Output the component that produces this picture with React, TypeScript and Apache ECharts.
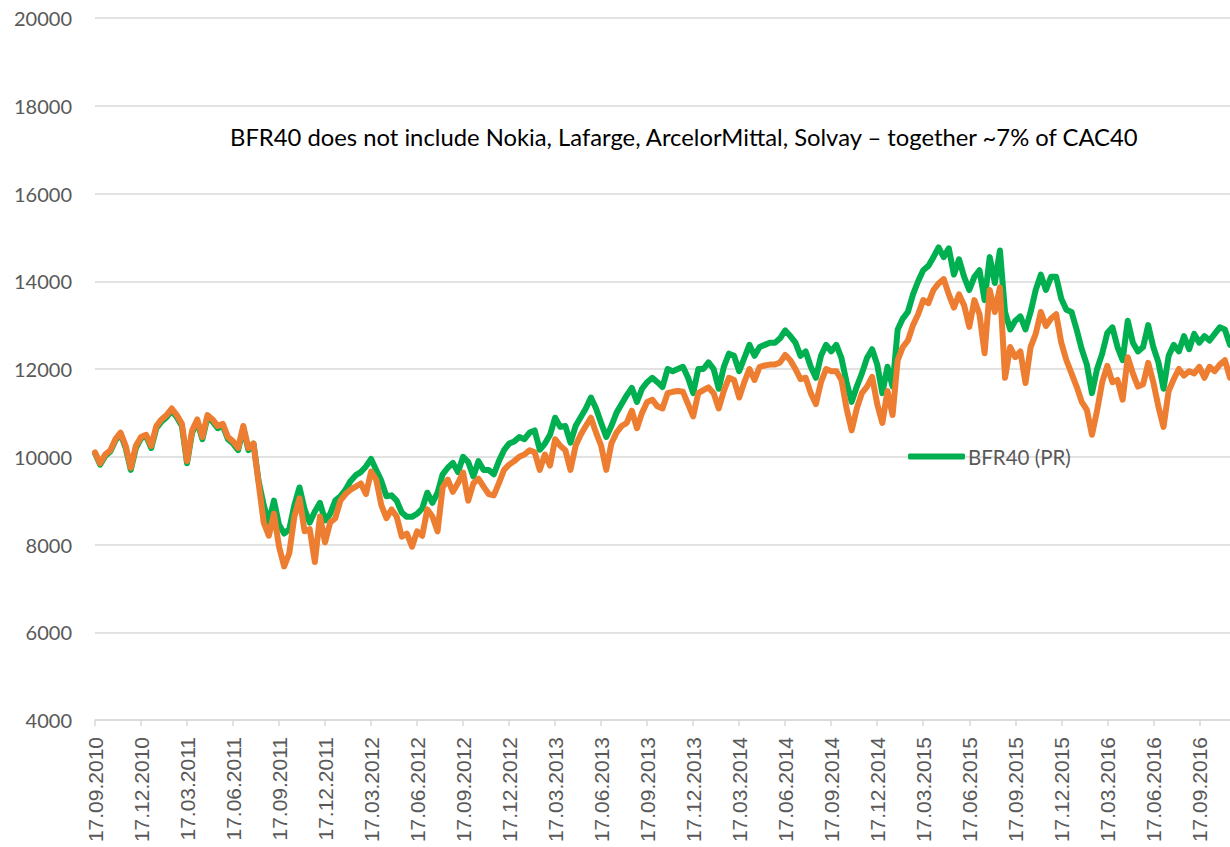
import React, { useEffect, useRef } from "react";
import * as echarts from "echarts";

const startYear = 2010;
const startMonth = 9;
const monthCount = 74; // Sep 2010 .. Oct 2016, then 17.11.2016 as last point

function pad(n: number) {
  return n < 10 ? "0" + n : "" + n;
}
function buildCategories(): string[] {
  const out: string[] = [];
  for (let k = 0; k < monthCount; k++) {
    const m0 = startMonth - 1 + k;
    const y = startYear + Math.floor(m0 / 12);
    const m = (m0 % 12) + 1;
    const m1 = m0 + 1;
    const y1 = startYear + Math.floor(m1 / 12);
    const mm1 = (m1 % 12) + 1;
    out.push(`17.${pad(m)}.${y}`);
    out.push(`27.${pad(m)}.${y}`);
    out.push(`07.${pad(mm1)}.${y1}`);
  }
  out.push("17.11.2016");
  return out;
}
const categories = buildCategories();

const yTicks = { min: 4000, max: 20000, interval: 2000 };

const bfr40 = [
  10080, 9820, 10020, 10120, 10370, 10520, 10200, 9700, 10200, 10420,
  10470, 10200, 10650, 10800, 10900, 11050, 10900, 10700, 9850, 10550,
  10800, 10400, 10900, 10800, 10650, 10700, 10400, 10300, 10150, 10650,
  10150, 10300, 9450, 8900, 8500, 9000, 8450, 8250, 8350, 8900,
  9300, 8800, 8500, 8750, 8950, 8550, 8700, 9000, 9100, 9250,
  9450, 9580, 9650, 9780, 9950, 9700, 9450, 9100, 9120, 9000,
  8730, 8630, 8630, 8700, 8820, 9180, 8950, 9180, 9600, 9750,
  9860, 9650, 10000, 9880, 9550, 9900, 9700, 9700, 9600, 9900,
  10150, 10300, 10350, 10450, 10400, 10550, 10600, 10160, 10300, 10500,
  10890, 10680, 10700, 10320, 10700, 10900, 11100, 11350, 11100, 10770,
  10450, 10700, 11000, 11200, 11400, 11570, 11250, 11550, 11700, 11800,
  11700, 11590, 12000, 11950, 12000, 12050, 11800, 11450, 12000, 12000,
  12150, 12000, 11550, 12050, 12350, 12300, 11950, 12250, 12550, 12300,
  12500, 12550, 12600, 12600, 12700, 12880, 12750, 12600, 12300, 12400,
  12050, 11800, 12300, 12550, 12400, 12550, 12250, 11700, 11250, 11600,
  11900, 12250, 12450, 12100, 11450, 12050, 11600, 12900, 13150, 13300,
  13700, 14000, 14250, 14350, 14550, 14770, 14550, 14750, 14150, 14500,
  14100, 13800, 14100, 14250, 13570, 14550, 13960, 14700, 13300, 12900,
  13100, 13200, 12900, 13300, 13800, 14150, 13800, 14100, 14100, 13600,
  13350, 13300, 12900, 12450, 12100, 11450, 12000, 12350, 12820, 12950,
  12500, 12200, 13100, 12600, 12400, 12500, 13000, 12500, 12150, 11550,
  12300, 12550, 12400, 12750, 12450, 12800, 12600, 12750, 12650, 12800,
  12950, 12900, 12550,
];

const cac40 = [
  10100, 9850, 10050, 10150, 10400, 10550, 10250, 9750, 10250, 10450,
  10500, 10250, 10700, 10850, 10950, 11100, 10950, 10750, 9900, 10600,
  10850, 10450, 10950, 10850, 10700, 10750, 10450, 10350, 10200, 10700,
  10200, 10300, 9400, 8500, 8200, 8700, 7950, 7500, 7800, 8640,
  9050, 8300, 8350, 7600, 8640, 8050, 8500, 8600, 9000, 9150,
  9250, 9320, 9390, 9150, 9660, 9480, 8900, 8600, 8800, 8640,
  8180, 8250, 7950, 8300, 8200, 8800, 8640, 8300, 9300, 9480,
  9200, 9400, 9640, 9000, 9390, 9500, 9320, 9150, 9120, 9400,
  9700, 9820, 9900, 10000, 10050, 10150, 10100, 9700, 10050, 9800,
  10400, 10250, 10150, 9700, 10250, 10500, 10700, 10890, 10550, 10250,
  9700, 10300, 10550, 10700, 10770, 11050, 10650, 11000, 11250, 11300,
  11150, 11100, 11450, 11480, 11500, 11480, 11200, 10920, 11450, 11520,
  11580, 11450, 11100, 11500, 11800, 11750, 11350, 11700, 12000, 11750,
  12050, 12080, 12100, 12100, 12150, 12320, 12200, 12000, 11770, 11800,
  11450, 11200, 11700, 12000, 11950, 11950, 11750, 11100, 10600, 11100,
  11450, 11600, 11820, 11200, 10770, 11500, 10950, 12200, 12500, 12650,
  13000, 13250, 13570, 13500, 13800, 13950, 14050, 13700, 13400, 13700,
  13450, 12960, 13570, 13250, 12360, 13800, 13300, 13860, 11800, 12500,
  12270, 12400, 11680, 12500, 12800, 13300, 12980, 13150, 13250, 12600,
  12200, 11900, 11600, 11250, 11070, 10500, 11050, 11700, 12070, 11700,
  11750, 11300, 12270, 11900, 11600, 11650, 12140, 11700, 11140, 10680,
  11500, 11770, 12000, 11850, 11950, 11900, 12050, 11800, 12050, 11950,
  12100, 12200, 11800,
];

const noteText =
  "BFR40 does not include Nokia, Lafarge, ArcelorMittal, Solvay – together ~7% of CAC40";

export default function App() {
  const ref = useRef<HTMLDivElement>(null);
  useEffect(() => {
    if (!ref.current) return;
    const chart = echarts.init(ref.current, undefined, { renderer: "svg" });
    chart.setOption({
      animation: false,
      backgroundColor: "#ffffff",
      grid: {
        left: 95,
        right: 0,
        top: 18,
        bottom: 127,
        containLabel: false,
        outerBoundsMode: "none",
      },
      legend: {
        data: [{ name: "BFR40 (PR)", icon: "roundRect" }],
        left: 903,
        top: 441,
        itemWidth: 57,
        itemHeight: 6,
        itemGap: 4,
        textStyle: { fontFamily: "Lato", fontSize: 20.5, color: "#595959", padding: [0, 0, 0, -2] },
      },
      graphic: [
        {
          type: "text",
          left: 230,
          top: 125,
          style: {
            text: noteText,
            fontFamily: "Lato",
            fontSize: 23.8,
            fill: "#000000",
          },
        },
      ],
      xAxis: {
        type: "category",
        data: categories,
        boundaryGap: false,
        axisLine: { lineStyle: { color: "#d9d9d9", width: 1.5 } },
        axisTick: {
          show: true,
          interval: 8,
          length: 6,
          lineStyle: { color: "#d9d9d9", width: 1.5 },
        },
        axisLabel: {
          interval: 8,
          rotate: 90,
          margin: 17,
          fontFamily: "Liberation Sans",
          fontSize: 21,
          color: "#595959",
        },
        splitLine: { show: false },
      },
      yAxis: {
        type: "value",
        min: yTicks.min,
        max: yTicks.max,
        interval: yTicks.interval,
        axisLine: { show: false },
        axisTick: { show: false },
        axisLabel: {
          margin: 23,
          fontFamily: "Lato",
          fontSize: 20,
          color: "#595959",
          formatter: (v: number) => String(v),
        },
        splitLine: { lineStyle: { color: "#d9d9d9", width: 1.5 } },
      },
      series: [
        {
          name: "BFR40 (PR)",
          type: "line",
          data: bfr40,
          showSymbol: false,
          symbol: "none",
          color: "#00B050",
          lineStyle: { width: 6, color: "#00B050", join: "round", cap: "round" },
        },
        {
          name: "CAC40",
          type: "line",
          data: cac40,
          showSymbol: false,
          symbol: "none",
          color: "#ED7D31",
          lineStyle: { width: 6, color: "#ED7D31", join: "round", cap: "round" },
        },
      ],
    });
    return () => chart.dispose();
  }, []);
  return (
    <div
      ref={ref}
      style={{ position: "absolute", left: 0, top: 0, width: 1230, height: 847, overflow: "hidden" }}
    />
  );
}
